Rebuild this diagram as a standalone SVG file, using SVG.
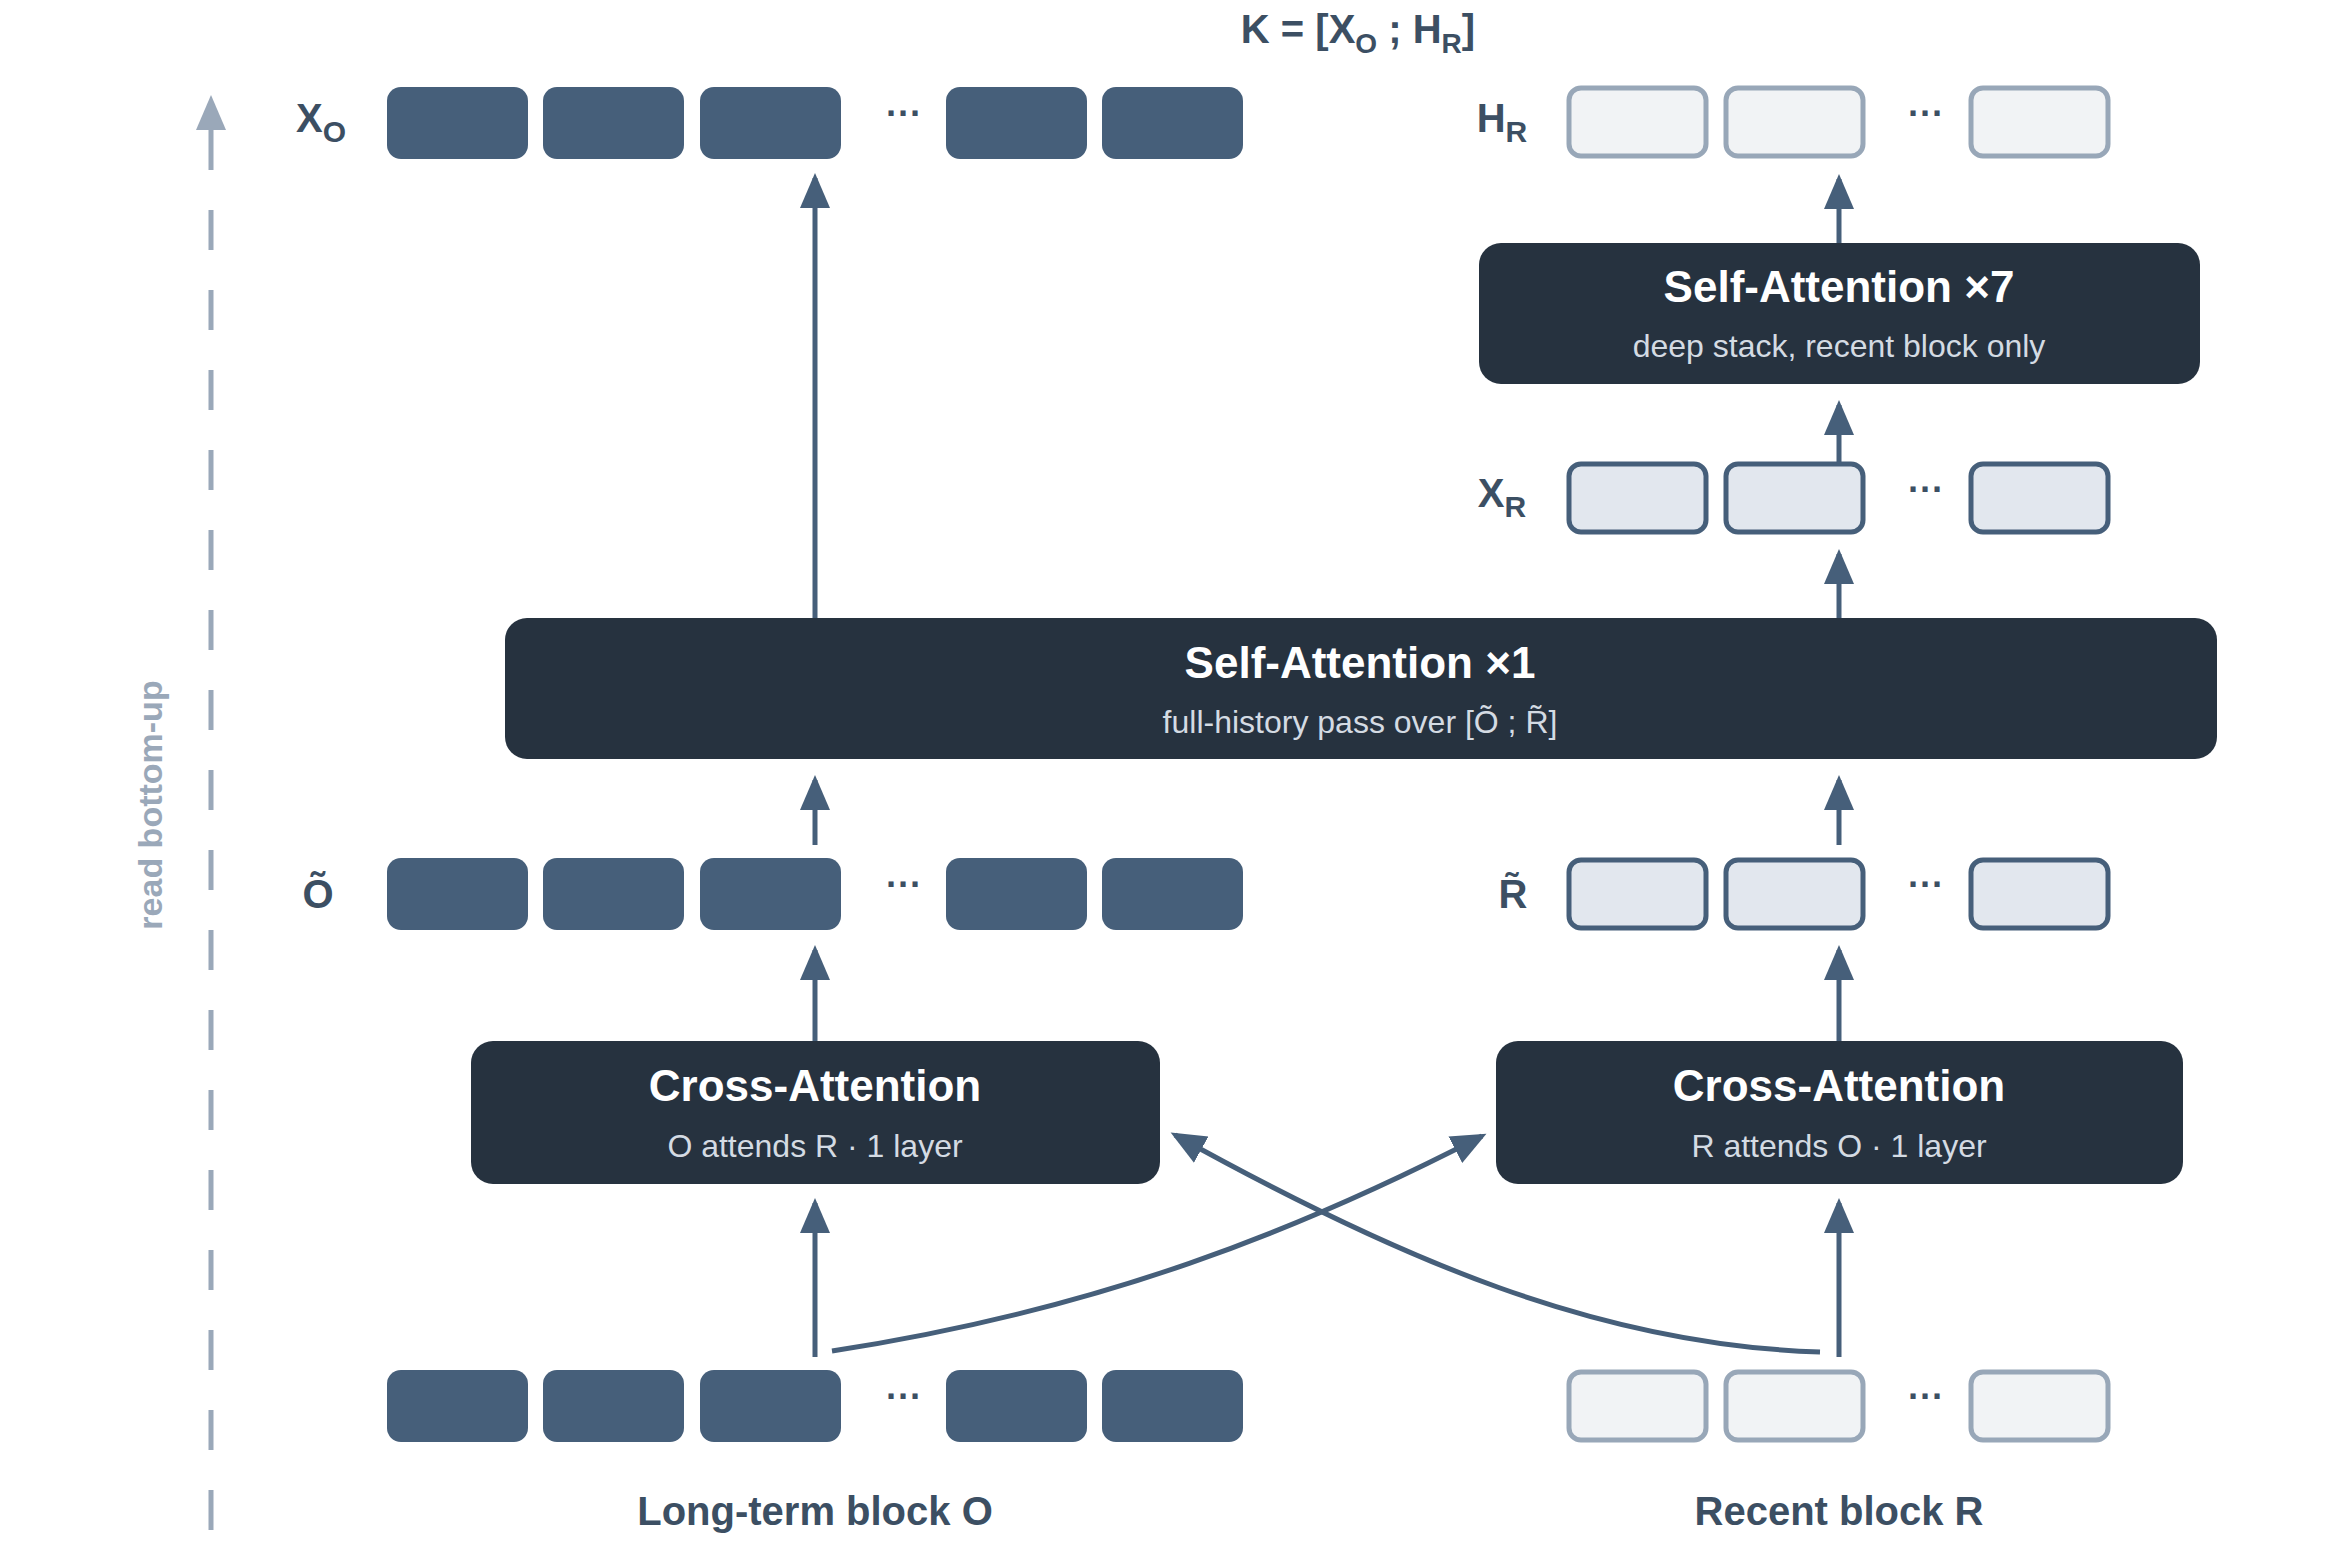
<svg xmlns="http://www.w3.org/2000/svg" width="2340" height="1555" viewBox="0 0 2340 1555">
<style>
text{font-family:"Liberation Sans",Arial,sans-serif}
.d{fill:#465f7a}
.l{fill:#e2e7ee;stroke:#465f7a;stroke-width:5}
.p{fill:#f1f3f5;stroke:#98a7b8;stroke-width:5}
.blk{fill:#26323f}
.t{fill:#fff;font-weight:bold;font-size:44px;text-anchor:middle}
.s{fill:#d4dbe3;font-size:32px;text-anchor:middle}
.lab{fill:#3c4f63;font-weight:bold;font-size:40px;text-anchor:middle}
.dots{fill:#3c4f63;font-weight:bold;font-size:36px;text-anchor:middle}
.c{fill:none;stroke:#465f7a;stroke-width:5}
</style>
<defs>
<marker id="ah" markerWidth="8" markerHeight="8" refX="6" refY="4" orient="auto" markerUnits="strokeWidth"><path d="M0,1 L7,4 L0,7 Z" fill="#465f7a"/></marker>
<marker id="ag" markerWidth="8" markerHeight="8" refX="6" refY="4" orient="auto" markerUnits="strokeWidth"><path d="M0,1 L7,4 L0,7 Z" fill="#9aa8b9"/></marker>
</defs>
<g id="axis">
<line x1="211" y1="1530" x2="211" y2="100" stroke="#9aa8b9" stroke-width="5" stroke-dasharray="40,40" marker-end="url(#ag)"/>
<text transform="translate(162,805) rotate(-90)" fill="#9aa8b9" font-weight="bold" font-size="34" text-anchor="middle">read bottom-up</text>
</g>
<g id="K"><text x="1358" y="43" class="lab" font-size="38">K = [X<tspan font-size="28" dy="10">O</tspan><tspan dy="-10"> ; H</tspan><tspan font-size="28" dy="10">R</tspan><tspan dy="-10">]</tspan></text></g>
<g id="XO">
<text x="321" y="132" class="lab">X<tspan font-size="30" dy="10">O</tspan></text>
<rect class="d" x="387" y="87" width="141" height="72" rx="14"/><rect class="d" x="543" y="87" width="141" height="72" rx="14"/><rect class="d" x="700" y="87" width="141" height="72" rx="14"/>
<text x="904" y="126" class="dots">···</text>
<rect class="d" x="946" y="87" width="141" height="72" rx="14"/><rect class="d" x="1102" y="87" width="141" height="72" rx="14"/>
</g>
<g id="HR">
<text x="1502" y="132" class="lab">H<tspan font-size="30" dy="10">R</tspan></text>
<rect class="p" x="1569" y="88" width="137" height="68" rx="12"/><rect class="p" x="1726" y="88" width="137" height="68" rx="12"/>
<text x="1926" y="126" class="dots">···</text>
<rect class="p" x="1971" y="88" width="137" height="68" rx="12"/>
</g>
<g id="SA7">
<rect class="blk" x="1479" y="243" width="721" height="141" rx="22"/>
<text x="1839" y="302" class="t">Self-Attention ×7</text>
<text x="1839" y="357" class="s">deep stack, recent block only</text>
</g>
<g id="XR">
<text x="1502" y="507" class="lab">X<tspan font-size="30" dy="10">R</tspan></text>
<rect class="l" x="1569" y="464" width="137" height="68" rx="12"/><rect class="l" x="1726" y="464" width="137" height="68" rx="12"/>
<text x="1926" y="502" class="dots">···</text>
<rect class="l" x="1971" y="464" width="137" height="68" rx="12"/>
</g>
<g id="SA1">
<rect class="blk" x="505" y="618" width="1712" height="141" rx="22"/>
<text x="1360" y="678" class="t">Self-Attention ×1</text>
<text x="1360" y="733" class="s">full-history pass over [Õ ; R̃]</text>
</g>
<g id="Otilde">
<text x="318" y="908" class="lab">Õ</text>
<rect class="d" x="387" y="858" width="141" height="72" rx="14"/><rect class="d" x="543" y="858" width="141" height="72" rx="14"/><rect class="d" x="700" y="858" width="141" height="72" rx="14"/>
<text x="904" y="897" class="dots">···</text>
<rect class="d" x="946" y="858" width="141" height="72" rx="14"/><rect class="d" x="1102" y="858" width="141" height="72" rx="14"/>
</g>
<g id="Rtilde">
<text x="1513" y="908" class="lab">R̃</text>
<rect class="l" x="1569" y="860" width="137" height="68" rx="12"/><rect class="l" x="1726" y="860" width="137" height="68" rx="12"/>
<text x="1926" y="897" class="dots">···</text>
<rect class="l" x="1971" y="860" width="137" height="68" rx="12"/>
</g>
<g id="CAO">
<rect class="blk" x="471" y="1041" width="689" height="143" rx="22"/>
<text x="815" y="1101" class="t">Cross-Attention</text>
<text x="815" y="1157" class="s">O attends R · 1 layer</text>
</g>
<g id="CAR">
<rect class="blk" x="1496" y="1041" width="687" height="143" rx="22"/>
<text x="1839" y="1101" class="t">Cross-Attention</text>
<text x="1839" y="1157" class="s">R attends O · 1 layer</text>
</g>
<g id="O">
<rect class="d" x="387" y="1370" width="141" height="72" rx="14"/><rect class="d" x="543" y="1370" width="141" height="72" rx="14"/><rect class="d" x="700" y="1370" width="141" height="72" rx="14"/>
<text x="904" y="1409" class="dots">···</text>
<rect class="d" x="946" y="1370" width="141" height="72" rx="14"/><rect class="d" x="1102" y="1370" width="141" height="72" rx="14"/>
<text x="815" y="1525" class="lab">Long-term block O</text>
</g>
<g id="R">
<rect class="p" x="1569" y="1372" width="137" height="68" rx="12"/><rect class="p" x="1726" y="1372" width="137" height="68" rx="12"/>
<text x="1926" y="1409" class="dots">···</text>
<rect class="p" x="1971" y="1372" width="137" height="68" rx="12"/>
<text x="1839" y="1525" class="lab">Recent block R</text>
</g>
<g id="connectors">
<line class="c" x1="815" y1="618" x2="815" y2="178" marker-end="url(#ah)"/>
<line class="c" x1="815" y1="845" x2="815" y2="780" marker-end="url(#ah)"/>
<line class="c" x1="815" y1="1041" x2="815" y2="950" marker-end="url(#ah)"/>
<line class="c" x1="815" y1="1357" x2="815" y2="1203" marker-end="url(#ah)"/>
<line class="c" x1="1839" y1="1357" x2="1839" y2="1203" marker-end="url(#ah)"/>
<line class="c" x1="1839" y1="1041" x2="1839" y2="950" marker-end="url(#ah)"/>
<line class="c" x1="1839" y1="845" x2="1839" y2="780" marker-end="url(#ah)"/>
<line class="c" x1="1839" y1="618" x2="1839" y2="554" marker-end="url(#ah)"/>
<line class="c" x1="1839" y1="464" x2="1839" y2="405" marker-end="url(#ah)"/>
<line class="c" x1="1839" y1="243" x2="1839" y2="179" marker-end="url(#ah)"/>
<path class="c" d="M832,1351 C1100,1310 1300,1230 1482,1136" marker-end="url(#ah)"/>
<path class="c" d="M1820,1352 C1600,1345 1400,1260 1175,1135" marker-end="url(#ah)"/>
</g>
</svg>
